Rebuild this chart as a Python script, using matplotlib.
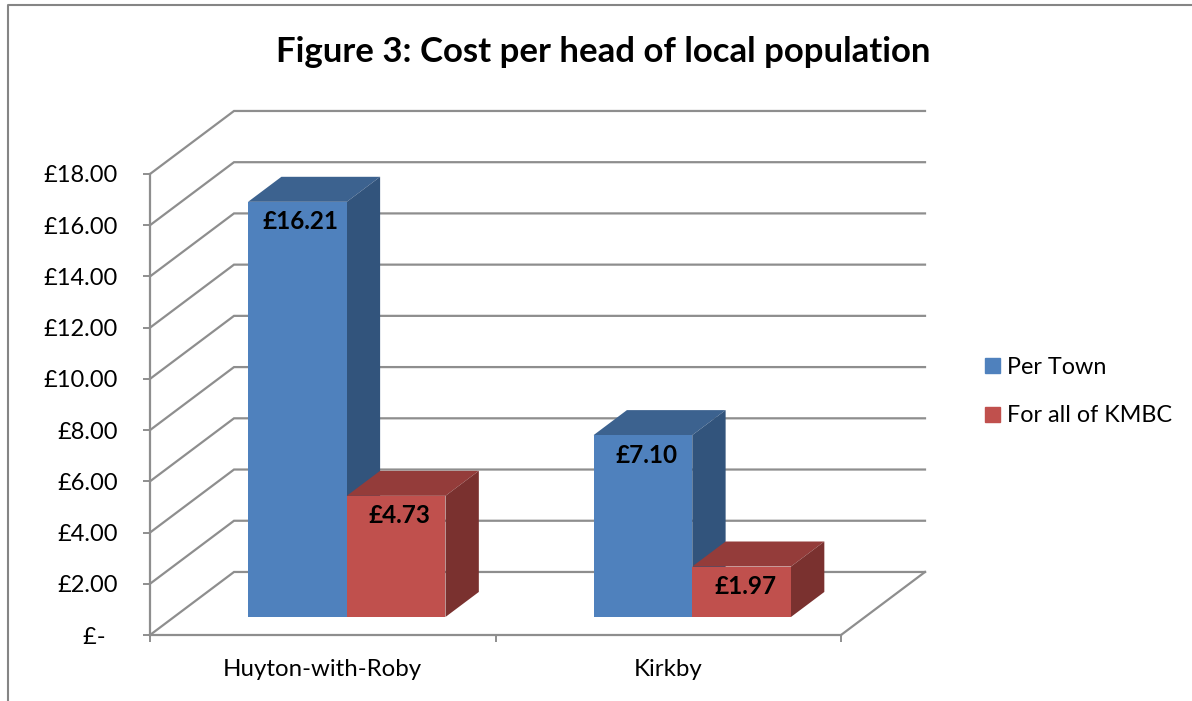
# Figure 3 - fake 3D clustered column chart, drawn on normal axes
import matplotlib
matplotlib.use("Agg")
import matplotlib.pyplot as plt
from matplotlib.lines import Line2D
from matplotlib.patches import Patch, Polygon

plt.rcParams["font.family"] = ["Lato", "DejaVu Sans"]

# data
towns = ["Huyton-with-Roby", "Kirkby"]
per_town = [16.21, 7.10]
for_all_kmbc = [4.73, 1.97]
series_names = ["Per Town", "For all of KMBC"]
y_ticks = [0, 2, 4, 6, 8, 10, 12, 14, 16, 18]
y_tick_labels = ["£-  ", "£2.00", "£4.00", "£6.00", "£8.00", "£10.00",
                 "£12.00", "£14.00", "£16.00", "£18.00"]

# colours: front, top, side
blue = ("#4F81BD", "#3C628F", "#32547C")
red = ("#C0504D", "#943C3A", "#7A312F")
grid_col = "#8E8E8E"

# how far the back wall is shifted, in data units
depth_x = 84 / 345.5
depth_y = 63 / 25.6
bar_w = 0.2857
bar_d0 = 0.286
bar_d1 = 0.683


def shift(x, y, d):
    return x + d * depth_x, y + d * depth_y


fig = plt.figure(figsize=(11.92, 7.01), dpi=100)
ax = fig.add_axes([150 / 1192, 66 / 701, 691 / 1192, 461 / 701])
ax.set_xlim(0, 2)
ax.set_ylim(0, 18)
ax.patch.set_visible(False)

# outer frame of the chart
fig.add_artist(Line2D([8 / 1192, 8 / 1192, 1], [0, 696.5 / 701, 696.5 / 701],
                      color="#858585", lw=1.5))

# side wall and back wall grid lines
for v in y_ticks:
    x0, y0 = shift(0, v, 1)
    x1, y1 = shift(2, v, 1)
    ax.plot([0, x0, x1], [v, y0, y1], color=grid_col, lw=1.6, clip_on=False,
            zorder=1, solid_joinstyle="miter")
x1, y1 = shift(2, 0, 1)
ax.plot([2, x1], [0, y1], color=grid_col, lw=1.6, clip_on=False, zorder=1)


def draw_bar(left, value, cols, z):
    # front face with ax.bar, then top and side as polygons
    fx, fy = shift(left, 0, bar_d0)
    ax.bar(fx, value, bar_w, bottom=fy, align="edge", color=cols[0], lw=0,
           clip_on=False, zorder=z + 0.2)
    top = fy + value
    bx = bar_d1 - bar_d0
    dx = bx * depth_x
    dy = bx * depth_y
    ax.add_patch(Polygon([(fx, top), (fx + bar_w, top), (fx + bar_w + dx, top + dy),
                          (fx + dx, top + dy)], closed=True, color=cols[1], lw=0,
                         clip_on=False, zorder=z))
    ax.add_patch(Polygon([(fx + bar_w, fy), (fx + bar_w + dx, fy + dy),
                          (fx + bar_w + dx, top + dy), (fx + bar_w, top)], closed=True,
                         color=cols[2], lw=0, clip_on=False, zorder=z))
    ax.annotate(f"£{value:.2f}", (fx + bar_w / 2, top), xytext=(2.5, -14.5),
                textcoords="offset points", ha="center", va="center",
                fontsize=17.5, fontweight="bold", color="black", zorder=z + 1)


for i in range(len(towns)):
    left = i + 0.2143
    draw_bar(left, per_town[i], blue, 3 + i * 2)
    draw_bar(left + bar_w, for_all_kmbc[i], red, 4 + i * 2)

# axes look
for side in ["top", "right"]:
    ax.spines[side].set_visible(False)
for side in ["left", "bottom"]:
    ax.spines[side].set_color(grid_col)
    ax.spines[side].set_linewidth(1.6)
    ax.spines[side].set_zorder(2)

ax.set_yticks(y_ticks)
ax.set_yticklabels(y_tick_labels, fontsize=17)
ax.set_xticks([0, 1, 2])
ax.set_xticklabels([])
ax.set_xticks([0.5, 1.5], towns, minor=True, fontsize=17.3)
ax.tick_params(axis="y", length=5, width=1.4, color=grid_col, pad=18)
ax.tick_params(axis="x", which="major", length=5, width=1.4, color=grid_col)
ax.tick_params(axis="x", which="minor", length=0, pad=17)

fig.text(603 / 1192, 649 / 701, "Figure 3: Cost per head of local population",
         ha="center", va="center", fontsize=25, fontweight="bold")

handles = [Patch(color=blue[0]), Patch(color=red[0])]
fig.legend(handles, series_names, loc="center left", frameon=False,
           bbox_to_anchor=(964 / 1192, (701 - 391.5) / 701), fontsize=16.8,
           handlelength=0.65, handleheight=0.65, handletextpad=0.3, labelspacing=1.2)

fig.savefig("out.png", dpi=100)
